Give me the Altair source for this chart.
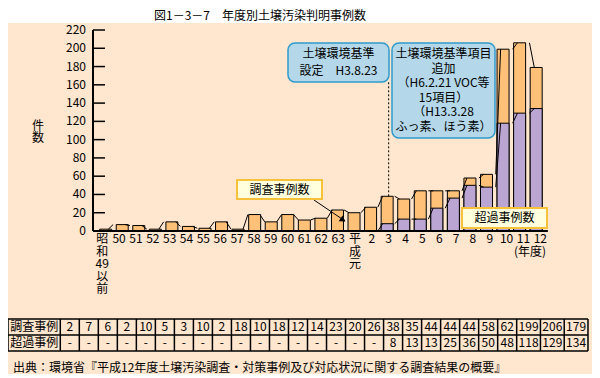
import altair as alt
import pandas as pd

# ---------------- data ----------------
categories = ["昭和49以前", "50", "51", "52", "53", "54", "55", "56", "57", "58", "59",
              "60", "61", "62", "63", "平成元", "2", "3", "4", "5", "6", "7", "8", "9",
              "10", "11", "12"]
axis_labels = ["昭\n和\n49\n以\n前", "50", "51", "52", "53", "54", "55", "56", "57", "58",
               "59", "60", "61", "62", "63", "平\n成\n元", "2", "3", "4", "5", "6", "7",
               "8", "9", "10", "11", "12"]
survey = [2, 7, 6, 2, 10, 5, 3, 10, 2, 18, 10, 18, 12, 14, 23, 20, 26, 38, 35, 44, 44,
          44, 58, 62, 199, 206, 179]
excess = [None] * 17 + [8, 13, 13, 25, 36, 50, 48, 118, 129, 134]
y_ticks = [0, 20, 40, 60, 80, 100, 120, 140, 160, 180, 200, 220]
row_labels = ["調査事例", "超過事例"]

FONT = "Noto Sans CJK JP"
ORANGE = "#FFC077"
PURPLE = "#BBA6D3"
PEACH = "#FFE6CF"

# ---------------- geometry ----------------
W, H = 584, 366
PX = 16.847          # px per category
X0 = 85              # chart-x of the value axis (index -0.55)
PY = 0.9136          # px per unit of count
Y0 = 223             # chart-y of zero
xs = alt.Scale(domain=[-0.55 - X0 / PX, -0.55 + (W - X0) / PX], nice=False, zero=False)
ys = alt.Scale(domain=[-(H - Y0) / PY, Y0 / PY], nice=False, zero=False)

TPX = 4.754          # table px per width unit
TPY = 16             # table row height
TY0 = 311            # chart-y of table top
txs = alt.Scale(domain=[0, W / TPX], nice=False, zero=False)
tys = alt.Scale(domain=[-(H - TY0) / TPY, TY0 / TPY], nice=False, zero=False)

n = len(categories)
df = pd.DataFrame({"i": list(range(n)), "label": axis_labels, "survey": survey,
                   "excess": excess})
df_ex = df.dropna(subset=["excess"])

conn_o = pd.DataFrame({"i": list(range(n - 1)), "i2": list(range(1, n)),
                       "v": survey[:-1], "v2": survey[1:]})
ex_filled = [0 if v is None else v for v in excess]
conn_p = pd.DataFrame({"i": list(range(16, n - 1)), "i2": list(range(17, n)),
                       "v": ex_filled[16:-1], "v2": ex_filled[17:]})

one = pd.DataFrame({"k": [0]})


def vbox(x1, y1, x2, y2, fill, stroke=None, sw=0, r=0):
    kw = dict(fill=fill, cornerRadius=r)
    if stroke:
        kw.update(stroke=stroke, strokeWidth=sw)
    return alt.Chart(one).mark_rect(**kw).encode(
        x=alt.value(x1), x2=alt.value(x2), y=alt.value(y1), y2=alt.value(y2))


def vtext(x, y, text, size=12, align="center", baseline="middle", lh=None):
    kw = dict(text=text, fontSize=size, font=FONT, color="black", align=align,
              baseline=baseline, lineBreak="\n")
    if lh:
        kw["lineHeight"] = lh
    return alt.Chart(one).mark_text(**kw).encode(x=alt.value(x), y=alt.value(y))


layers = []

# background
layers.append(vbox(0, 15, W, H, PEACH))
layers.append(vtext(252, 8, "図1－3－7　年度別土壌汚染判明事例数"))

# bars
layers.append(alt.Chart(df).mark_bar(size=12, fill=ORANGE, stroke="black", strokeWidth=1).encode(
    x=alt.X("i:Q", scale=xs, axis=None),
    y=alt.Y("survey:Q", scale=ys, axis=None),
    y2=alt.Y2Datum(0)))
layers.append(alt.Chart(df_ex).mark_bar(size=12, fill=PURPLE, stroke="black", strokeWidth=1).encode(
    x=alt.X("i:Q", scale=xs, axis=None),
    y=alt.Y("excess:Q", scale=ys, axis=None),
    y2=alt.Y2Datum(0)))

# connector lines between bar tops
for cdf in (conn_o, conn_p):
    layers.append(alt.Chart(cdf).mark_rule(color="black", strokeWidth=1, xOffset=6, x2Offset=-6).encode(
        x=alt.X("i:Q", scale=xs, axis=None), x2="i2:Q",
        y=alt.Y("v:Q", scale=ys, axis=None), y2="v2:Q"))

# value axis: line, inward ticks, labels
ticks_df = pd.DataFrame({"v": y_ticks})
layers.append(alt.Chart(one).mark_rule(color="black", strokeWidth=2).encode(
    x=alt.XDatum(-0.55, scale=xs, axis=None),
    y=alt.YDatum(0, scale=ys, axis=None), y2=alt.Y2Datum(220)))
layers.append(alt.Chart(one).mark_rule(color="black", strokeWidth=2).encode(
    x=alt.XDatum(-0.55, scale=xs, axis=None), x2=alt.X2Datum(n - 0.55),
    y=alt.YDatum(0, scale=ys, axis=None)))
layers.append(alt.Chart(ticks_df).mark_rule(
    color="black", strokeWidth=1.5, x2Offset=12).encode(
    x=alt.XDatum(-0.55, scale=xs, axis=None), x2=alt.X2Datum(-0.55),
    y=alt.Y("v:Q", scale=ys, axis=None)))
layers.append(alt.Chart(ticks_df).mark_text(
    align="right", baseline="middle", xOffset=-7, fontSize=12, font=FONT, color="black").encode(
    x=alt.XDatum(-0.55, scale=xs, axis=None),
    y=alt.Y("v:Q", scale=ys, axis=None), text="v:Q"))

# category labels
layers.append(alt.Chart(df).mark_text(baseline="top", lineBreak="\n", lineHeight=12.5,
                                      fontSize=12, font=FONT, color="black").encode(
    x=alt.X("i:Q", scale=xs, axis=None), y=alt.value(226), text="label:N"))
layers.append(vtext(522, 244, "(年度)"))
layers.append(vtext(30, 113, "件\n数", baseline="top", lh=12))

# annotations
layers.append(alt.Chart(one).mark_rule(color="black", strokeWidth=1, strokeDash=[2, 2]).encode(
    x=alt.XDatum(17, scale=xs, axis=None), y=alt.YDatum(38, scale=ys, axis=None),
    y2=alt.value(74)))
layers.append(vbox(280, 35, 381, 74, "#B4D8EA", "#2F9ACB", 1.5, 7))
layers.append(vtext(330.5, 41, "土壌環境基準\n設定　H3.8.23", baseline="top", lh=17))
layers.append(vbox(384, 35, 487, 130, "#B4D8EA", "#2F9ACB", 1.5, 7))
layers.append(vtext(435.5, 41, "土壌環境基準項目\n追加\n（H6.2.21 VOC等\n15項目）\n（H13.3.28\nふっ素、ほう素）",
                    baseline="top", lh=14.6))

layers.append(alt.Chart(one).mark_rule(color="black", strokeWidth=1).encode(
    x=alt.value(306), x2=alt.value(337), y=alt.value(192), y2=alt.value(213)))
layers.append(alt.Chart(one).mark_point(shape="triangle-right", filled=True, size=45, angle=34,
                                        color="black", opacity=1).encode(
    x=alt.value(335), y=alt.value(212)))
layers.append(vbox(229, 172, 314, 191, "#FFFFDD", "#F5C23A", 2))
layers.append(vtext(271.5, 181.5, "調査事例数"))
layers.append(vbox(454, 200, 539, 220, "#FFFFDD", "#F5C23A", 2))
layers.append(vtext(496.5, 210, "超過事例数"))

# ---------------- table ----------------
widths = [4 if len(str(v)) <= 2 else 5 for v in survey]
bounds = [0, 11]
for w in widths:
    bounds.append(bounds[-1] + w)
centers = [(bounds[k + 1] + bounds[k + 2]) / 2 for k in range(n)]
cells = []
for r, name in enumerate(row_labels):
    cells.append({"x": 5.5, "y": -0.5 - r, "t": name})
for k in range(n):
    cells.append({"x": centers[k], "y": -0.5, "t": str(survey[k])})
    cells.append({"x": centers[k], "y": -1.5, "t": "-" if excess[k] is None else str(excess[k])})
cells = pd.DataFrame(cells)
vlines = pd.DataFrame({"x": bounds, "y": [0] * len(bounds), "y2": [-2] * len(bounds)})
hlines = pd.DataFrame({"y": [0, -1, -2], "x": [0] * 3, "x2": [bounds[-1]] * 3})

layers.append(alt.Chart(vlines).mark_rule(color="black", strokeWidth=1.5).encode(
    x=alt.X("x:Q", scale=txs, axis=None), y=alt.Y("y:Q", scale=tys, axis=None), y2="y2:Q"))
layers.append(alt.Chart(hlines).mark_rule(color="black", strokeWidth=1.5).encode(
    x=alt.X("x:Q", scale=txs, axis=None), x2="x2:Q", y=alt.Y("y:Q", scale=tys, axis=None)))
layers.append(alt.Chart(cells).mark_text(fontSize=12, font=FONT, color="black", baseline="middle").encode(
    x=alt.X("x:Q", scale=txs, axis=None), y=alt.Y("y:Q", scale=tys, axis=None), text="t:N"))

layers.append(vtext(5, 360, "出典：環境省『平成12年度土壌汚染調査・対策事例及び対応状況に関する調査結果の概要』",
                    align="left"))

chart = alt.layer(*layers).resolve_scale(x="independent", y="independent").properties(
    width=W, height=H, padding=0, autosize=alt.AutoSizeParams(type="none"),
    background="white"
).configure_view(stroke=None)

chart.save("out.html", embed_options={"renderer": "svg", "actions": False})
